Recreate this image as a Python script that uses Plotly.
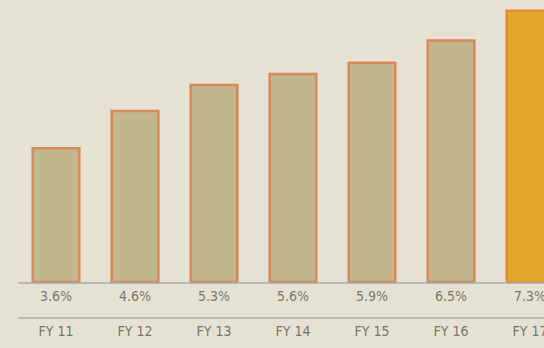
import plotly.graph_objects as go

years = ["FY 11", "FY 12", "FY 13", "FY 14", "FY 15", "FY 16", "FY 17"]
rates = [3.6, 4.6, 5.3, 5.6, 5.9, 6.5, 7.3]
rate_labels = ["3.6%", "4.6%", "5.3%", "5.6%", "5.9%", "6.5%", "7.3%"]

BG = "#e6e2d3"
TEXT = "#77776c"
fills = ["#c2b68f"] * 6 + ["#e2a82c"]
edges = ["#d8895a"] * 6 + ["#eb8a2a"]

xs = list(range(len(years)))

fig = go.Figure()
fig.add_trace(go.Bar(
    x=xs, y=rates, width=0.59,
    marker=dict(color=fills, line=dict(color=edges, width=2.5)),
    hoverinfo="skip",
))

# value row and year row beneath the baseline
fig.add_trace(go.Scatter(
    x=xs, y=[-0.43] * len(xs), mode="text", text=rate_labels,
    textfont=dict(family="Liberation Sans Narrow, DejaVu Sans Condensed, Arial Narrow, sans-serif",
                  size=14, color=TEXT),
    hoverinfo="skip",
))
fig.add_trace(go.Scatter(
    x=xs, y=[-1.36] * len(xs), mode="text", text=years,
    textfont=dict(family="Liberation Sans Narrow, DejaVu Sans Condensed, Arial Narrow, sans-serif",
                  size=14, color=TEXT),
    hoverinfo="skip",
))

for yv in (-0.03, -0.97):
    fig.add_shape(type="line", xref="paper", yref="y", x0=18 / 544, x1=1,
                  y0=yv, y1=yv, line=dict(color="#a9b0b2", width=1.5))

fig.update_layout(
    width=544, height=348,
    margin=dict(l=0, r=0, t=0, b=0),
    paper_bgcolor=BG, plot_bgcolor=BG,
    showlegend=False,
    xaxis=dict(range=[-0.709, 6.177], visible=False, fixedrange=True),
    yaxis=dict(range=[-1.777, 7.59], visible=False, fixedrange=True),
)

fig.write_html("out.html")
